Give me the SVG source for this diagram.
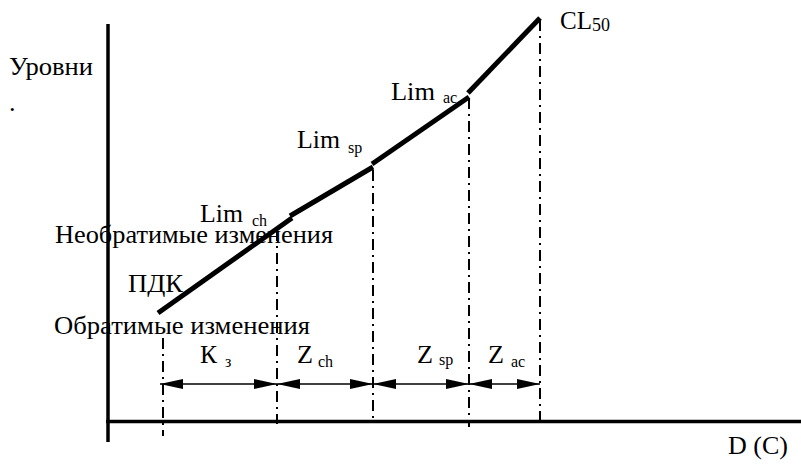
<svg xmlns="http://www.w3.org/2000/svg" width="801" height="465" viewBox="0 0 801 465">
<style>
text{font-family:"Liberation Serif","Times New Roman",serif;fill:#000}
.t{font-size:26px}
.s{font-size:16px}
.axis{stroke:#000;stroke-width:3.5;fill:none}
.curve{stroke:#000;stroke-width:5;fill:none}
.dd{stroke:#000;stroke-width:2;stroke-dasharray:11 5 2 5;fill:none}
.dim{stroke:#000;stroke-width:1.5;fill:none;marker-start:url(#ah);marker-end:url(#ah)}
</style>
<defs>
<marker id="ah" viewBox="0 0 23 10" refX="23" refY="5" markerWidth="23" markerHeight="10" markerUnits="userSpaceOnUse" orient="auto-start-reverse">
<path d="M0,0 L23,5 L0,10 z" fill="#000"/>
</marker>
</defs>
<rect width="801" height="465" fill="#fff"/>
<g id="axes">
<line class="axis" x1="108" y1="24" x2="108" y2="442"/>
<line class="axis" x1="106" y1="421.5" x2="801" y2="421.5"/>
</g>
<g id="guides">
<line class="dd" x1="163" y1="338" x2="163" y2="436"/>
<line class="dd" x1="277" y1="230" x2="277" y2="424"/>
<line class="dd" x1="373" y1="170" x2="373" y2="420"/>
<line class="dd" x1="469" y1="98" x2="469" y2="427"/>
<line class="dd" x1="540" y1="20" x2="540" y2="421"/>
</g>
<g id="curve">
<line class="curve" x1="158" y1="313" x2="292" y2="218"/>
<line class="curve" x1="290" y1="216" x2="373" y2="167"/>
<line class="curve" x1="372" y1="164" x2="469" y2="97"/>
<line class="curve" x1="468" y1="93" x2="540" y2="18"/>
</g>
<g id="connectors">
<line class="dim" x1="160" y1="384" x2="277" y2="384"/>
<line class="dim" x1="277" y1="384" x2="373" y2="384"/>
<line class="dim" x1="373" y1="384" x2="469" y2="384"/>
<line class="dim" x1="469" y1="384" x2="540" y2="384"/>
</g>
<g id="labels">
<text class="t" x="9" y="75" textLength="84" lengthAdjust="spacingAndGlyphs">Уровни</text>
<text class="t" x="9" y="111">.</text>
<g id="lim-ch"><text class="t" x="200" y="222" textLength="43" lengthAdjust="spacingAndGlyphs">Lim</text><text class="s" x="252" y="226">ch</text></g>
<g id="lim-sp"><text class="t" x="297" y="148" textLength="43" lengthAdjust="spacingAndGlyphs">Lim</text><text class="s" x="348" y="153">sp</text></g>
<g id="lim-ac"><text class="t" x="391" y="100" textLength="44" lengthAdjust="spacingAndGlyphs">Lim</text><text class="s" x="443" y="103">ac</text></g>
<g id="cl50"><text class="t" x="560" y="29" textLength="32" lengthAdjust="spacingAndGlyphs">CL</text><text x="592" y="31" style="font-size:18px">50</text></g>
<text class="t" x="55" y="243" textLength="278" lengthAdjust="spacingAndGlyphs">Необратимые изменения</text>
<text class="t" x="128" y="292" textLength="55" lengthAdjust="spacingAndGlyphs">ПДК</text>
<text class="t" x="54" y="334" textLength="256" lengthAdjust="spacingAndGlyphs">Обратимые изменения</text>
<g id="k-z"><text class="t" x="200" y="363" textLength="17" lengthAdjust="spacingAndGlyphs">К</text><text class="s" x="225" y="367">з</text></g>
<g id="z-ch"><text class="t" x="297" y="363" textLength="16" lengthAdjust="spacingAndGlyphs">Z</text><text class="s" x="318" y="367">ch</text></g>
<g id="z-sp"><text class="t" x="417" y="363" textLength="16" lengthAdjust="spacingAndGlyphs">Z</text><text class="s" x="439" y="365">sp</text></g>
<g id="z-ac"><text class="t" x="488" y="363" textLength="16" lengthAdjust="spacingAndGlyphs">Z</text><text class="s" x="511" y="367">ac</text></g>
<text class="t" x="728" y="454" textLength="60" lengthAdjust="spacingAndGlyphs">D (C)</text>
</g>
</svg>
